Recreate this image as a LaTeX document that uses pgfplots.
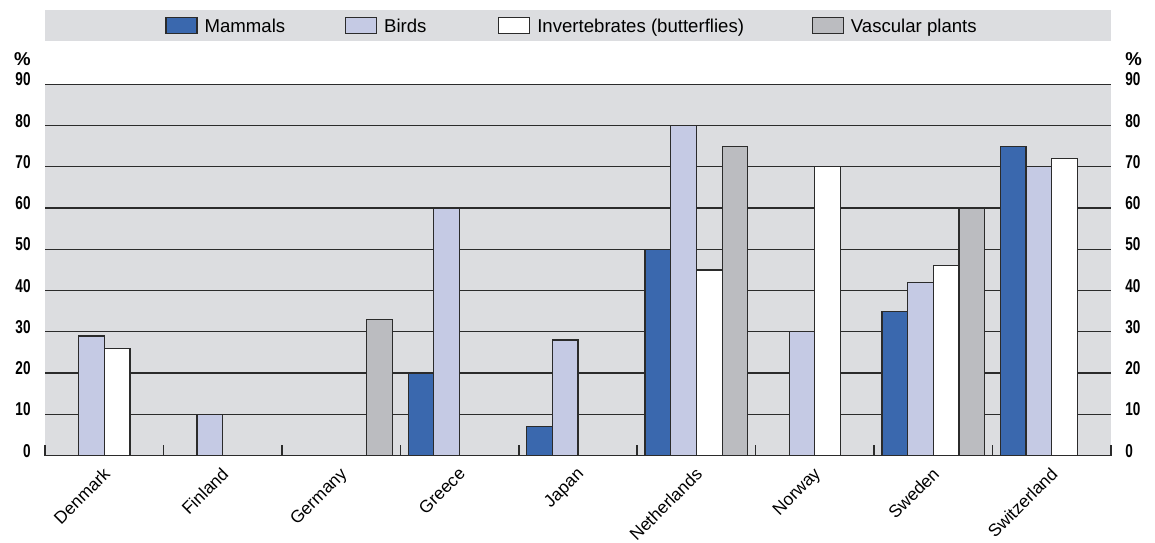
\documentclass[border=0pt]{standalone}
\usepackage{fontspec}
\setmainfont{Liberation Sans}
\newfontfamily\condbold[FakeStretch=0.73]{Liberation Sans}
\usepackage{pgfplots}
\pgfplotsset{compat=1.18}
\definecolor{bggrey}{HTML}{DCDDE0}
\definecolor{mammal}{HTML}{3A68AE}
\definecolor{bird}{HTML}{C5CAE4}
\definecolor{plant}{HTML}{BBBCC0}
\definecolor{edge}{HTML}{2B2B2B}
\begin{document}
\begin{tikzpicture}
\path[use as bounding box] (-22.5pt,-43.25pt) rectangle (555pt,227.75pt);
% legend band
\fill[bggrey] (0pt,207.25pt) rectangle (533pt,222.75pt);
\begin{axis}[
  at={(0pt,0pt)}, anchor=south west,
  scale only axis, width=533pt, height=185.6pt,
  xmin=-0.5, xmax=8.5, ymin=0, ymax=90,
  axis background/.style={fill=bggrey},
  axis line style={draw=none},
  xtick pos=left, ytick pos=left,
  tick align=inside,
  ytick={0,10,...,90},
  ymajorgrids, grid style={draw=edge, line width=0.6pt},
  ytick style={draw=none},
  /pgf/number format/assume math mode=true,
  yticklabel style={anchor=base east, inner sep=0pt, xshift=-7pt, yshift=-0.75pt,
    font=\condbold\bfseries\fontsize{9.3}{10}\selectfont},
  xtick={0,...,8},
  xticklabels={Denmark,Finland,Germany,Greece,Japan,Netherlands,Norway,Sweden,Switzerland},
  xticklabel style={rotate=45, anchor=north east, inner sep=0pt, xshift=-4.4pt, yshift=-2.96pt,
    font=\fontsize{8.7}{10}\selectfont},
  minor xtick={-0.5,0.5,...,8.5},
  major x tick style={draw=none},
  major tick length=0pt,
  minor x tick style={draw=edge, line width=0.8pt, yshift=5.5pt},
  minor tick length=5.5pt,
  ybar=0pt, bar width=12.85pt,
  every axis plot/.append style={draw=edge, line width=0.6pt},
  legend columns=-1,
  legend style={at={(axis description cs:0.1126,1.1557)}, anchor=west,
    draw=none, fill=none, inner sep=0pt, nodes={inner sep=0pt},
    font=\fontsize{9.3}{11}\selectfont,
    /tikz/every odd column/.append style={column sep=3.5pt}},
  legend image code/.code={\draw[#1, line width=0.6pt] (0pt,-3.1pt) rectangle (15.5pt,4.9pt);},
]
\addplot[fill=mammal] coordinates {(3,20) (4,7) (5,50) (7,35) (8,75)};
\addlegendentry{\makebox[70.15pt][l]{Mammals}}
\addplot[fill=bird] coordinates {(0,29) (1,10) (3,60) (4,28) (5,80) (6,30) (7,42) (8,70)};
\addlegendentry{\makebox[57pt][l]{Birds}}
\addplot[fill=white] coordinates {(0,26) (5,45) (6,70) (7,46) (8,72)};
\addlegendentry{\makebox[137.2pt][l]{Invertebrates (butterflies)}}
\addplot[fill=plant] coordinates {(2,33) (5,75) (7,60)};
\addlegendentry{Vascular plants}
\draw[edge, line width=1pt] (rel axis cs:0,0) -- (rel axis cs:1,0);
\end{axis}
\begin{axis}[
  at={(0pt,0pt)}, anchor=south west,
  scale only axis, width=533pt, height=185.6pt,
  xmin=-0.5, xmax=8.5, ymin=0, ymax=90,
  axis x line=none, axis y line*=right,
  y axis line style={draw=none},
  ytick={0,10,...,90}, ytick style={draw=none}, major tick length=0pt,
  /pgf/number format/assume math mode=true,
  yticklabel style={anchor=base west, inner sep=0pt, xshift=7pt, yshift=-0.75pt,
    font=\condbold\bfseries\fontsize{9.3}{10}\selectfont},
]
\end{axis}
\node[anchor=base east, inner sep=0pt, font=\bfseries\fontsize{9.3}{10}\selectfont] at (-7pt,194.75pt) {\%};
\node[anchor=base west, inner sep=0pt, font=\bfseries\fontsize{9.3}{10}\selectfont] at (540pt,194.75pt) {\%};
\end{tikzpicture}
\end{document}
